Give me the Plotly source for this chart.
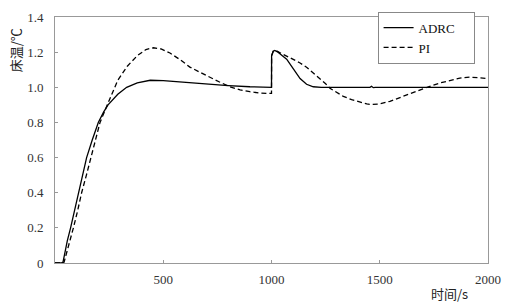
import plotly.graph_objects as go

# ADRC series
adrc_t = [0, 30, 37, 45, 57, 72, 90, 108, 128, 146, 172, 200, 225, 245, 290, 331, 380, 440, 500,
          600, 700, 800, 900, 999, 1000, 1000.5, 1008, 1015, 1030, 1050, 1070, 1101, 1132, 1162,
          1193, 1230, 1455, 1462, 1470, 1480, 2000]
adrc_y = [0, 0, 0.005, 0.06, 0.127, 0.2, 0.3, 0.4, 0.5, 0.6, 0.7, 0.8, 0.86, 0.9, 0.96, 1.0, 1.025,
          1.04, 1.038, 1.028, 1.018, 1.01, 1.003, 1.0, 1.0, 1.18, 1.205, 1.21, 1.2, 1.18, 1.16, 1.105,
          1.05, 1.017, 1.003, 1.0, 1.0, 1.006, 0.998, 1.0, 1.0]

# PI series
pi_t = [0, 38, 42, 50, 65, 85, 105, 123, 145, 165, 187, 208, 245, 290, 334, 380, 420, 454, 490,
        531, 580, 623, 670, 716, 760, 808, 855, 900, 940, 985, 999, 1000, 1000.5, 1008, 1018, 1039,
        1070, 1101, 1130, 1162, 1195, 1224, 1250, 1270, 1300, 1332, 1370, 1409, 1440, 1465, 1500,
        1547, 1600, 1640, 1680, 1725, 1780, 1824, 1870, 1917, 1960, 2000]
pi_y = [0, 0, 0.005, 0.04, 0.11, 0.2, 0.3, 0.4, 0.5, 0.6, 0.7, 0.8, 0.91, 1.04, 1.12, 1.18, 1.215,
        1.225, 1.218, 1.195, 1.155, 1.115, 1.085, 1.055, 1.03, 1.003, 0.985, 0.975, 0.968, 0.965,
        0.966, 0.966, 1.18, 1.205, 1.21, 1.197, 1.18, 1.16, 1.14, 1.114, 1.08, 1.05, 1.02, 0.994,
        0.97, 0.948, 0.93, 0.915, 0.905, 0.902, 0.905, 0.92, 0.945, 0.967, 0.985, 1.003, 1.025,
        1.04, 1.052, 1.058, 1.056, 1.05]

x_ticks = [500, 1000, 1500, 2000]
y_ticks = [0, 0.2, 0.4, 0.6, 0.8, 1.0, 1.2, 1.4]
y_labels = ["0", "0.2", "0.4", "0.6", "0.8", "1.0", "1.2", "1.4"]
series_names = ["ADRC", "PI"]

pad = "\u00a0" * 4
fig = go.Figure()
fig.add_trace(go.Scatter(x=adrc_t, y=adrc_y, mode="lines", name=series_names[0] + pad,
                         line=dict(color="black", width=1.3)))
fig.add_trace(go.Scatter(x=pi_t, y=pi_y, mode="lines", name=series_names[1] + pad,
                         line=dict(color="black", width=1.3, dash="5px,3px")))

serif = "Liberation Serif"
fig.update_layout(
    width=514, height=308,
    margin=dict(l=55, r=26, t=10, b=45),
    paper_bgcolor="white", plot_bgcolor="white",
    font=dict(family=serif, size=13, color="#222"),
    showlegend=True,
    legend=dict(x=0.745, y=1.022, xanchor="left", yanchor="top",
                bordercolor="#888", borderwidth=1, bgcolor="white",
                font=dict(family=serif, size=13, color="#111"),
                tracegroupgap=0),
    xaxis=dict(range=[0, 2000], tickvals=x_ticks, ticktext=[str(v) for v in x_ticks],
               showgrid=False, zeroline=False, showline=True, mirror=True,
               linecolor="#999", linewidth=1, ticks="inside", ticklen=3, tickcolor="#999",
               ticklabelstandoff=4,
               tickfont=dict(family=serif, size=13, color="#333")),
    yaxis=dict(range=[0, 1.4], tickvals=y_ticks, ticktext=y_labels,
               showgrid=False, zeroline=False, showline=True, mirror=True,
               linecolor="#999", linewidth=1, ticks="inside", ticklen=3, tickcolor="#999",
               ticklabelstandoff=8,
               tickfont=dict(family=serif, size=13, color="#333")),
    annotations=[
        dict(text="床温/℃", xref="paper", yref="paper", x=-0.092, y=0.865,
             textangle=-90, showarrow=False, xanchor="center", yanchor="middle",
             font=dict(family="Noto Sans CJK SC", size=13, color="#222")),
        dict(text="时间/s", xref="paper", yref="paper", x=0.912, y=-0.126,
             showarrow=False, xanchor="center", yanchor="middle",
             font=dict(family="Noto Sans CJK SC", size=13, color="#222")),
    ],
)

fig.write_html("out.html")
